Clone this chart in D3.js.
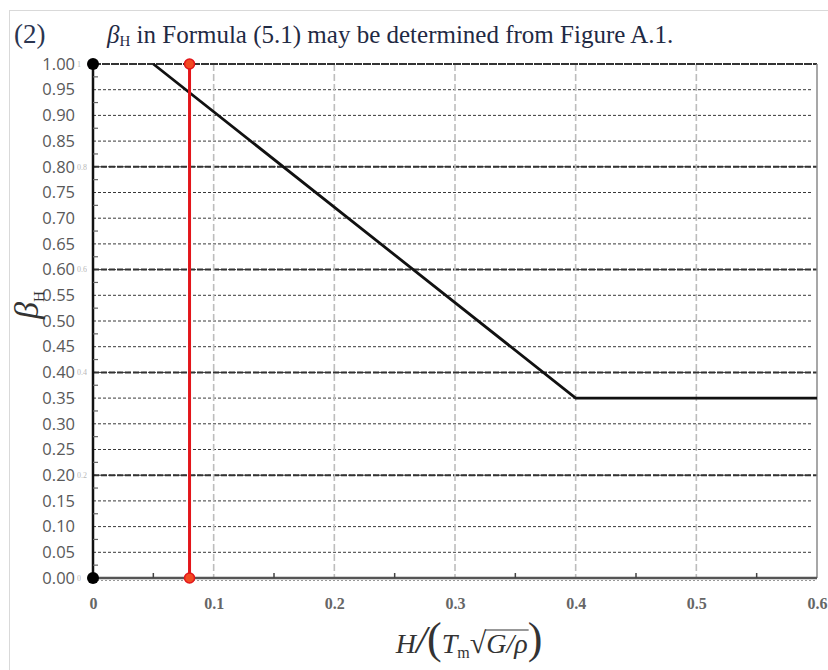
<!DOCTYPE html>
<html>
<head>
<meta charset="utf-8">
<script src="https://cdn.jsdelivr.net/npm/d3@7"></script>
<style>
  body { margin: 0; background: #fff; }
</style>
</head>
<body>
<div id="chart"></div>
<script>
// values
const xTicks = [0, 0.1, 0.2, 0.3, 0.4, 0.5, 0.6];
const yTicks = [0, 0.05, 0.10, 0.15, 0.20, 0.25, 0.30, 0.35, 0.40, 0.45, 0.50,
                0.55, 0.60, 0.65, 0.70, 0.75, 0.80, 0.85, 0.90, 0.95, 1.00];
const yMajor = [0.2, 0.4, 0.6, 0.8];
const ghostLabels = ["0", "0.2", "0.4", "0.6", "0.8", "1"];
const ghostValues = [0, 0.2, 0.4, 0.6, 0.8, 1];
const curveX = [0.05, 0.40, 0.60];
const curveY = [1.00, 0.35, 0.35];
const markerX = 0.08;

const W = 828, H = 670;
const margin = {top: 64, right: 11, bottom: 92, left: 93};
const width = W - margin.left - margin.right;
const height = H - margin.top - margin.bottom;

const root = d3.select("#chart").append("svg")
    .attr("width", W)
    .attr("height", H);

// page frame
root.append("rect")
    .attr("x", 9.5).attr("y", 10.5)
    .attr("width", W).attr("height", H)
    .attr("fill", "none")
    .attr("stroke", "#d9d9d9");

// title
root.append("text")
    .attr("x", 14).attr("y", 43)
    .attr("font-family", "Liberation Serif, serif")
    .attr("font-size", 27)
    .attr("fill", "#2b3550")
    .text("(2)");

const title = root.append("text")
    .attr("x", 107).attr("y", 43)
    .attr("font-family", "Liberation Serif, serif")
    .attr("font-size", 25)
    .attr("fill", "#1f2a44");
title.append("tspan").attr("font-style", "italic").text("β");
title.append("tspan").attr("font-size", 15).attr("dy", 3).text("H");
title.append("tspan").attr("dy", -3).text(" in Formula (5.1) may be determined from Figure A.1.");

const svg = root.append("g")
    .attr("transform", `translate(${margin.left},${margin.top})`);

const x = d3.scaleLinear().domain([0, 0.6]).range([0, width]);
const y = d3.scaleLinear().domain([0, 1]).range([height, 0]);

// horizontal grid (thin)
svg.append("g")
    .selectAll("line")
    .data(yTicks.filter(d => d > 0 && d < 1))
    .join("line")
    .attr("x1", 0).attr("x2", width - 4)
    .attr("y1", d => y(d)).attr("y2", d => y(d))
    .attr("stroke", "#222")
    .attr("stroke-width", 0.9)
    .attr("stroke-dasharray", "3,2");

// heavier dashed lines from the overlaid figure
svg.append("g")
    .selectAll("line")
    .data(yMajor)
    .join("line")
    .attr("x1", 0).attr("x2", width)
    .attr("y1", d => y(d)).attr("y2", d => y(d))
    .attr("stroke", "#333")
    .attr("stroke-width", 2)
    .attr("stroke-dasharray", "6,2");

// vertical grid
svg.append("g")
    .selectAll("line")
    .data(xTicks.filter(d => d > 0 && d < 0.6))
    .join("line")
    .attr("x1", d => x(d)).attr("x2", d => x(d))
    .attr("y1", 0).attr("y2", height)
    .attr("stroke", "#bdbdbd")
    .attr("stroke-width", 1.6)
    .attr("stroke-dasharray", "7,3");

// top edge and right edge
svg.append("line")
    .attr("x1", 0).attr("x2", width)
    .attr("y1", y(1)).attr("y2", y(1))
    .attr("stroke", "#333")
    .attr("stroke-width", 2.2)
    .attr("stroke-dasharray", "8,1");
svg.append("line")
    .attr("x1", x(0.6)).attr("x2", x(0.6))
    .attr("y1", 0).attr("y2", height)
    .attr("stroke", "#8a8a8a")
    .attr("stroke-width", 1.5);

// bottom axis
svg.append("line")
    .attr("x1", 0).attr("x2", width)
    .attr("y1", height).attr("y2", height)
    .attr("stroke", "#555")
    .attr("stroke-width", 2.5);
svg.append("line")
    .attr("x1", 0).attr("x2", width)
    .attr("y1", height + 2.5).attr("y2", height + 2.5)
    .attr("stroke", "#999")
    .attr("stroke-width", 1)
    .attr("stroke-dasharray", "2,2");

const xAxis = svg.append("g")
    .attr("transform", `translate(0,${height})`)
    .call(d3.axisBottom(x).tickValues(xTicks).tickSize(0).tickPadding(20)
        .tickFormat(d => d === 0 ? "0" : d3.format(".1f")(d)));
xAxis.select(".domain").remove();
xAxis.selectAll("text")
    .attr("font-family", "Liberation Serif, serif")
    .attr("font-size", 16)
    .attr("font-weight", "bold")
    .attr("fill", "#666");

// minor ticks on bottom axis
svg.append("g")
    .selectAll("line")
    .data(xTicks.slice(0, -1).map(d => d + 0.05))
    .join("line")
    .attr("x1", d => x(d)).attr("x2", d => x(d))
    .attr("y1", height).attr("y2", height - 5)
    .attr("stroke", "#444")
    .attr("stroke-width", 1.5);

// left axis
svg.append("line")
    .attr("x1", 0).attr("x2", 0)
    .attr("y1", 0).attr("y2", height)
    .attr("stroke", "#111")
    .attr("stroke-width", 2.5);

svg.append("g")
    .selectAll("line")
    .data(yTicks.slice(0, -1).map(d => d + 0.025))
    .join("line")
    .attr("x1", 0).attr("x2", 5)
    .attr("y1", d => y(d)).attr("y2", d => y(d))
    .attr("stroke", "#666")
    .attr("stroke-width", 1.2);

const yAxis = svg.append("g")
    .call(d3.axisLeft(y).tickValues(yTicks).tickSize(0).tickPadding(18)
        .tickFormat(d3.format(".2f")));
yAxis.select(".domain").remove();
yAxis.selectAll("text")
    .attr("font-family", "Open Sans, sans-serif")
    .attr("font-size", 16.5)
    .attr("fill", "#595959");

// faint labels of the overlaid figure, tucked next to the main labels
svg.append("g")
    .selectAll("text")
    .data(ghostValues)
    .join("text")
    .attr("x", -16)
    .attr("y", d => y(d))
    .attr("dy", "0.35em")
    .attr("font-family", "Liberation Serif, serif")
    .attr("font-size", 8)
    .attr("fill", "#8a8a8a")
    .attr("opacity", 0.6)
    .text((d, i) => ghostLabels[i]);

// y-axis title
const yTitle = svg.append("text")
    .attr("transform", `translate(${-55},${y(0.531)}) rotate(-90)`)
    .attr("text-anchor", "middle")
    .attr("font-family", "Liberation Serif, serif")
    .attr("font-size", 34)
    .attr("fill", "#333");
yTitle.append("tspan").attr("font-style", "italic").text("β");
yTitle.append("tspan").attr("font-size", 15).attr("dy", 6).text("H");

// curve
svg.append("path")
    .datum(curveX.map((d, i) => [d, curveY[i]]))
    .attr("fill", "none")
    .attr("stroke", "#111")
    .attr("stroke-width", 2.8)
    .attr("d", d3.line().x(d => x(d[0])).y(d => y(d[1])));

// red marker line
svg.append("line")
    .attr("x1", x(markerX)).attr("x2", x(markerX))
    .attr("y1", y(1)).attr("y2", y(0))
    .attr("stroke", "#e3151a")
    .attr("stroke-width", 3);
svg.selectAll("circle.red")
    .data([0, 1])
    .join("circle")
    .attr("class", "red")
    .attr("cx", x(markerX))
    .attr("cy", d => y(d))
    .attr("r", 5)
    .attr("fill", "#f24a22")
    .attr("stroke", "#e3151a")
    .attr("stroke-width", 1.5);

// black end points on y axis
svg.selectAll("circle.blk")
    .data([0, 1])
    .join("circle")
    .attr("class", "blk")
    .attr("cx", x(0))
    .attr("cy", d => y(d))
    .attr("r", 6)
    .attr("fill", "#000");

// x-axis title: H/(Tm sqrt(G/rho))
const xTitle = root.append("text")
    .attr("x", 469)
    .attr("y", 653)
    .attr("text-anchor", "middle")
    .attr("font-family", "Liberation Serif, serif")
    .attr("font-size", 28)
    .attr("fill", "#333");
xTitle.append("tspan").attr("font-style", "italic").text("H");
xTitle.append("tspan").attr("font-size", 40).attr("font-style", "italic").text("/");
xTitle.append("tspan").attr("font-size", 44).text("(");
xTitle.append("tspan").attr("font-style", "italic").text("T");
xTitle.append("tspan").attr("font-size", 16).attr("dy", 5).text("m");
const rad = xTitle.append("tspan").attr("font-size", 30).attr("dy", -5).text("√");
const under = xTitle.append("tspan").attr("font-style", "italic").text("G/ρ");
xTitle.append("tspan").attr("font-size", 44).text(")");

// overbar of the square root
const r = rad.node().getExtentOfChar(0);
const n = under.node().getNumberOfChars();
const e = under.node().getExtentOfChar(n - 1);
root.append("line")
    .attr("x1", r.x + r.width - 1).attr("x2", e.x + e.width + 1)
    .attr("y1", r.y + 4).attr("y2", r.y + 4)
    .attr("stroke", "#333")
    .attr("stroke-width", 1.2);
</script>
</body>
</html>
